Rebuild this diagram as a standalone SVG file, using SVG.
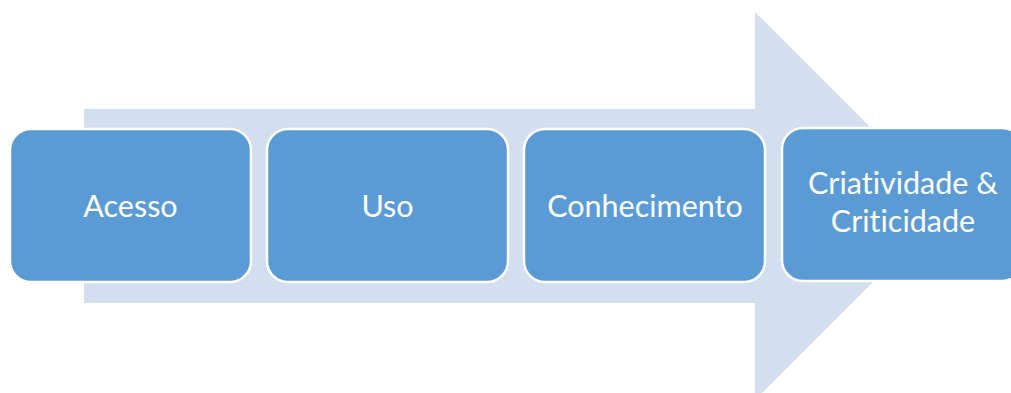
<svg xmlns="http://www.w3.org/2000/svg" width="1011" height="393" viewBox="0 0 1011 393">
  <style>
    .step { fill: #5B9BD5; stroke: #FFFFFF; stroke-width: 2.5; }
    .label { fill: #FFFFFF; font-family: Lato, "Open Sans", "Liberation Sans", sans-serif; font-size: 30.5px; text-anchor: middle; font-variant-ligatures: none; font-feature-settings: "liga" 0; }
  </style>
  <rect width="1011" height="393" fill="#FFFFFF"/>
  <!-- background progress arrow -->
  <g id="connectors">
    <polygon points="84,109 755,109 755,12 949,206 755,400 755,303 84,303" fill="#D3DEEF"/>
  </g>
  <g id="node-acesso">
    <rect class="step" x="10" y="129" width="241" height="153" rx="21" ry="21"/>
    <text class="label" x="130.5" y="217">Acesso</text>
  </g>
  <g id="node-uso">
    <rect class="step" x="267" y="129" width="241" height="153" rx="21" ry="21"/>
    <text class="label" x="387.5" y="217">Uso</text>
  </g>
  <g id="node-conhecimento">
    <rect class="step" x="524" y="129" width="241" height="153" rx="21" ry="21"/>
    <text class="label" x="645" y="217">Conhecimento</text>
  </g>
  <g id="node-criatividade">
    <rect class="step" x="782" y="128" width="241" height="153" rx="21" ry="21"/>
    <text class="label" x="903" y="194">Criatividade &amp;</text>
    <text class="label" x="903" y="231.5">Criticidade</text>
  </g>
</svg>
